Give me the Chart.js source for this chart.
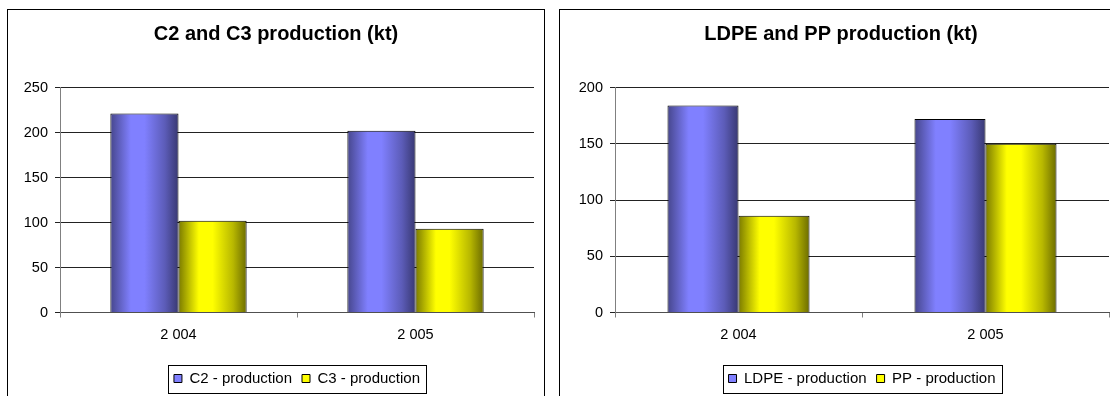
<!DOCTYPE html>
<html>
<head>
<meta charset="utf-8">
<script src="https://cdn.jsdelivr.net/npm/chart.js@4"></script>
<style>
  html, body { margin: 0; padding: 0; background: #fff; }
  body { width: 1110px; height: 396px; overflow: hidden; position: relative; }
  .panel { position: absolute; top: 9px; border: 1px solid #000; background: #fff; height: 400px; }
  #panelLeft { left: 7px; width: 536px; }
  #panelRight { left: 559px; width: 562px; }
  canvas { display: block; }
</style>
</head>
<body>
<div class="panel" id="panelLeft"><canvas id="chartC2C3" width="536" height="386"></canvas></div>
<div class="panel" id="panelRight"><canvas id="chartLdpePp" width="562" height="386"></canvas></div>
<script>
// Years on the category axis
const years = ['2 004', '2 005'];

// Cracker output (kt)
const c2Production = [221, 202];
const c3Production = [102, 93];

// Polymer output (kt)
const ldpeProduction = [184, 172];
const ppProduction = [86, 150];

// Value axis ranges
const c2c3AxisMax = 250;
const polymerAxisMax = 200;
const axisStep = 50;

const FONT = '"Liberation Sans", Arial, sans-serif';
const BLUE = '#8080ff';
const YELLOW = '#ffff00';

// Cylinder-like horizontal shading for each bar
const shadeStops = {
  [BLUE]:   [[0, '#46468c'], [0.3, '#8080ff'], [0.5, '#8080ff'], [0.8, '#5c5cb8'], [1, '#383872']],
  [YELLOW]: [[0, '#7a7a00'], [0.3, '#ffff00'], [0.5, '#ffff00'], [0.8, '#b8b800'], [1, '#6c6c00']]
};

const barShading = {
  id: 'barShading',
  beforeDatasetsDraw(chart) {
    const ctx = chart.ctx;
    chart.data.datasets.forEach((ds, di) => {
      const meta = chart.getDatasetMeta(di);
      const stops = shadeStops[ds.backgroundColor];
      if (!stops) return;
      meta.data.forEach(el => {
        const left = el.x - el.width / 2;
        const g = ctx.createLinearGradient(left, 0, left + el.width, 0);
        stops.forEach(([o, c]) => g.addColorStop(o, c));
        el.options = Object.assign({}, el.options, { backgroundColor: g });
      });
    });
  }
};

// Thin frame drawn around the legend items
const legendFrame = {
  id: 'legendFrame',
  afterDraw(chart) {
    const lg = chart.legend;
    if (!lg || !lg.legendHitBoxes || !lg.legendHitBoxes.length) return;
    const hb = lg.legendHitBoxes;
    const left = Math.min(...hb.map(h => h.left)) - 6;
    const right = Math.max(...hb.map(h => h.left + h.width)) + 6;
    const midY = hb[0].top + hb[0].height / 2;
    const ctx = chart.ctx;
    ctx.save();
    ctx.strokeStyle = '#000';
    ctx.lineWidth = 1;
    ctx.strokeRect(Math.round(left) + 0.5, Math.round(midY - 14) + 0.5, Math.round(right - left), 28);
    ctx.restore();
  }
};

function makeChart(canvasId, title, labels, series, axisMax, yWidth, rightGap) {
  return new Chart(document.getElementById(canvasId), {
    type: 'bar',
    data: {
      labels: labels,
      datasets: series.map(s => ({
        label: s.label,
        data: s.data,
        backgroundColor: s.color,
        borderColor: '#000',
        borderWidth: 1,
        categoryPercentage: 0.575,
        barPercentage: 1.0,
        yAxisID: 'y'
      }))
    },
    options: {
      responsive: false,
      animation: false,
      events: [],
      layout: { padding: 0 },
      scales: {
        x: {
          grid: { display: true, drawOnChartArea: false, drawTicks: true, tickLength: 5, color: '#808080', offset: true },
          border: { display: true, color: '#505050', width: 1 },
          ticks: { color: '#000', font: { family: FONT, size: 14.5 }, padding: 9, maxRotation: 0 },
          afterFit: s => { s.height = 48.5; }
        },
        y: {
          min: 0,
          max: axisMax,
          ticks: { stepSize: axisStep, color: '#000', font: { family: FONT, size: 14.5 }, padding: 7 },
          grid: { color: '#222', lineWidth: 1, tickLength: 5, drawTicks: true },
          border: { display: true, color: '#808080', width: 1 },
          afterFit: s => { s.width = yWidth; }
        },
        gap: {
          position: 'right',
          display: true,
          grid: { display: false },
          ticks: { display: false },
          border: { display: false },
          afterFit: s => { s.width = rightGap; }
        }
      },
      plugins: {
        title: {
          display: true,
          text: title,
          color: '#000',
          font: { family: FONT, size: 20, weight: 'bold' },
          padding: { top: 12, bottom: 41.5 }
        },
        legend: {
          position: 'bottom',
          fullSize: false,
          labels: {
            color: '#000',
            font: { family: FONT, size: 15 },
            boxWidth: 8,
            boxHeight: 8,
            padding: 10
          }
        },
        tooltip: { enabled: false }
      }
    },
    plugins: [barShading, legendFrame]
  });
}

makeChart('chartC2C3', 'C2 and C3 production (kt)', years, [
  { label: 'C2 - production', data: c2Production, color: BLUE },
  { label: 'C3 - production', data: c3Production, color: YELLOW }
], c2c3AxisMax, 52, 10);

makeChart('chartLdpePp', 'LDPE and PP production (kt)', years, [
  { label: 'LDPE - production', data: ldpeProduction, color: BLUE },
  { label: 'PP - production', data: ppProduction, color: YELLOW }
], polymerAxisMax, 55, 13);
</script>
</body>
</html>
